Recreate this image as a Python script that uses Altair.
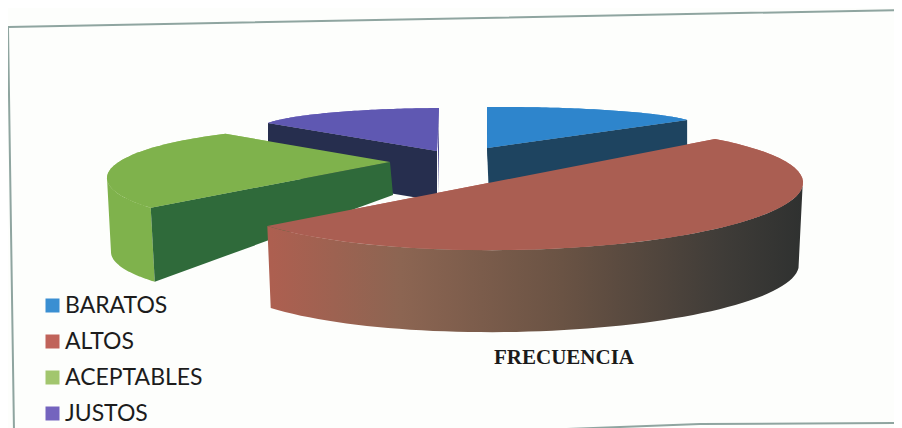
import math
import altair as alt

# ---- chart values (estimated shares) ----
categories = ["BARATOS", "ALTOS", "ACEPTABLES", "JUSTOS"]
shares = [13, 50, 25, 12]
legend_colors = ["#3A8FD2", "#C0635A", "#A2C66E", "#7464BE"]
face_colors = ["#2E85CC", "#AA5E52", "#7FB24C", "#5F58B2"]
inner_colors = ["#1E4460", "#1E4460", "#2F6A3A", "#262E4E"]
title_text = "FRECUENCIA"

# ---- drawing geometry of the tilted, exploded pie (style only) ----
# rim ellipse: cx, cy, a, b, tilt; start angle, stretch of the sweep by perspective; apex; wall depth
geom = {
    "BARATOS": dict(c=(500, 127), a=200, b=20, s=0.0, start=266.3, stretch=1.56, apex=(487, 148), h=50, dx=2),
    "ALTOS": dict(c=(510, 187), a=293, b=63, s=-0.015, start=-45.6, stretch=1.064, apex=None, h=82, dx=0),
    "ACEPTABLES": dict(c=(330, 178), a=223, b=50, s=0.0, start=143.5, stretch=1.095, apex=(390, 162), h=74, dx=4),
    "JUSTOS": dict(c=(450, 129), a=190, b=21, s=0.0, start=196.7, stretch=1.62, apex=(437, 151), h=50, dx=0),
}
total = sum(shares)


def rim(g, t0, t1, n=60, dy=0, dx=0, shrink=1.0):
    pts = []
    for i in range(n + 1):
        t = math.radians(t0 + (t1 - t0) * i / n)
        x = g["c"][0] + g["a"] * shrink * math.cos(t)
        y = g["c"][1] + g["b"] * math.sin(t) + g["s"] * g["a"] * math.cos(t)
        pts.append([x + dx, y + dy])
    return pts


def feature(pts, fill, name="", kind=""):
    return {
        "type": "Feature",
        "geometry": {"type": "Polygon", "coordinates": [pts + [pts[0]]]},
        "properties": {"fill": fill, "name": name, "kind": kind},
    }


sweep = {c: 360 * v / total * geom[c]["stretch"] for c, v in zip(categories, shares)}
colors = dict(zip(categories, face_colors))
inner = dict(zip(categories, inner_colors))
faces, pieces, altos = [], [], {}

for c in categories:
    g = geom[c]
    t0, t1 = g["start"], g["start"] + sweep[c]
    arc = rim(g, t0, t1)
    if g["apex"] is not None:
        arc = arc + [list(g["apex"])]
    faces.append(feature(arc, legend_colors[categories.index(c)], c))
    if c == "ALTOS":
        tr = max(t0, 3)
        altos["wall"] = feature(
            rim(g, tr, t1) + rim(g, t1, tr, dy=g["h"], shrink=0.986), "#000", c
        )
        altos["top"] = feature(arc, colors[c], c)

g = geom["JUSTOS"]
t0, t1 = g["start"], g["start"] + sweep["JUSTOS"]
a, b = rim(g, t0, t0, n=1)[0], rim(g, t1, t1, n=1)[0]
ax, ay = g["apex"]
pieces.append(feature([a, [ax, ay], [ax, ay + g["h"]], [a[0], a[1] + g["h"]]], inner["JUSTOS"]))
pieces.append(feature([b, [ax + 1, ay], [ax + 1, ay + 44], [b[0], b[1] + 40]], "#45408C"))
pieces.append(feature(rim(g, t0, t1) + [[ax, ay]], colors["JUSTOS"]))

g = geom["BARATOS"]
t0, t1 = g["start"], g["start"] + sweep["BARATOS"]
a, b = rim(g, t0, t0, n=1)[0], rim(g, t1, t1, n=1)[0]
ax, ay = g["apex"]
pieces.append(feature([b, [ax, ay], [ax + g["dx"], ay + g["h"]], [b[0], b[1] + g["h"]]], inner["BARATOS"]))
pieces.append(feature([a, [ax, ay], [ax + g["dx"], ay + 27], [a[0] + 1, a[1] + 30]], "#1E4460"))
pieces.append(feature(rim(g, t0, t1) + [[ax, ay]], colors["BARATOS"]))

g = geom["ACEPTABLES"]
t0, t1 = g["start"], g["start"] + sweep["ACEPTABLES"]
a = rim(g, t0, t0, n=1)[0]
ax, ay = g["apex"]
pieces.append(feature(rim(g, t0, 180) + rim(g, 180, t0, dy=g["h"], dx=g["dx"]), colors["ACEPTABLES"]))
pieces.append(feature([a, [ax, ay], [ax + 3, ay + 33], [a[0] + g["dx"], a[1] + g["h"]]], inner["ACEPTABLES"]))
pieces.append(feature(rim(g, t0, t1) + [[ax, ay]], colors["ACEPTABLES"]))

frame_feature = {
    "type": "Feature",
    "geometry": {
        "type": "MultiLineString",
        "coordinates": [
            [[902, 10], [8, 27], [14, 432]],
            [[540, 430], [700, 424], [902, 423]],
        ],
    },
    "properties": {},
}

proj = dict(type="identity", scale=1, translate=[-8, -8])

frame_layer = (
    alt.Chart(alt.Data(values=[frame_feature]))
    .mark_geoshape(filled=False, stroke="#8FA5A0", strokeWidth=2)
    .project(**proj)
)

legend_layer = (
    alt.Chart(alt.Data(values=faces))
    .mark_geoshape(strokeWidth=0)
    .encode(
        color=alt.Color(
            "properties.name:N",
            scale=alt.Scale(domain=categories, range=legend_colors),
            legend=alt.Legend(
                title=None,
                orient="none",
                legendX=33,
                legendY=286,
                symbolType="square",
                symbolSize=196,
                symbolStrokeWidth=0,
                labelFont="Lato",
                labelFontSize=23,
                labelColor="#1c1c1c",
                rowPadding=12,
                labelOffset=1,
                labelLimit=300,
            ),
        )
    )
    .project(**proj)
)

pieces_layer = (
    alt.Chart(alt.Data(values=pieces))
    .mark_geoshape(strokeWidth=0)
    .encode(fill=alt.Fill("properties.fill:N", scale=None, legend=None))
    .project(**proj)
)

wall_gradient = alt.Gradient(
    gradient="linear",
    x1=0,
    x2=1,
    y1=0,
    y2=0,
    stops=[
        alt.GradientStop(offset=0, color="#AE5F50"),
        alt.GradientStop(offset=0.25, color="#8C6552"),
        alt.GradientStop(offset=0.55, color="#6A5344"),
        alt.GradientStop(offset=0.85, color="#3F3C38"),
        alt.GradientStop(offset=1, color="#2F3130"),
    ],
)
wall_layer = (
    alt.Chart(alt.Data(values=[altos["wall"]]))
    .mark_geoshape(fill=wall_gradient, strokeWidth=0)
    .project(**proj)
)
top_layer = (
    alt.Chart(alt.Data(values=[altos["top"]]))
    .mark_geoshape(fill=colors["ALTOS"], strokeWidth=0)
    .project(**proj)
)
title_layer = (
    alt.Chart(alt.Data(values=[{"label": title_text}]))
    .mark_text(
        font="Liberation Serif",
        fontSize=21,
        fontWeight="bold",
        color="#1a1a1a",
        align="center",
        baseline="alphabetic",
    )
    .encode(text="label:N", x=alt.value(564 - 8), y=alt.value(364 - 8))
)

chart = (
    alt.layer(frame_layer, legend_layer, pieces_layer, wall_layer, top_layer, title_layer)
    .resolve_scale(color="independent")
    .properties(
        width=886,
        height=420,
        padding=0,
        autosize=alt.AutoSizeParams(type="none"),
        background="#FDFEFC",
    )
    .configure_view(stroke=None)
)

chart.save("out.html", embed_options={"renderer": "svg", "actions": False})
